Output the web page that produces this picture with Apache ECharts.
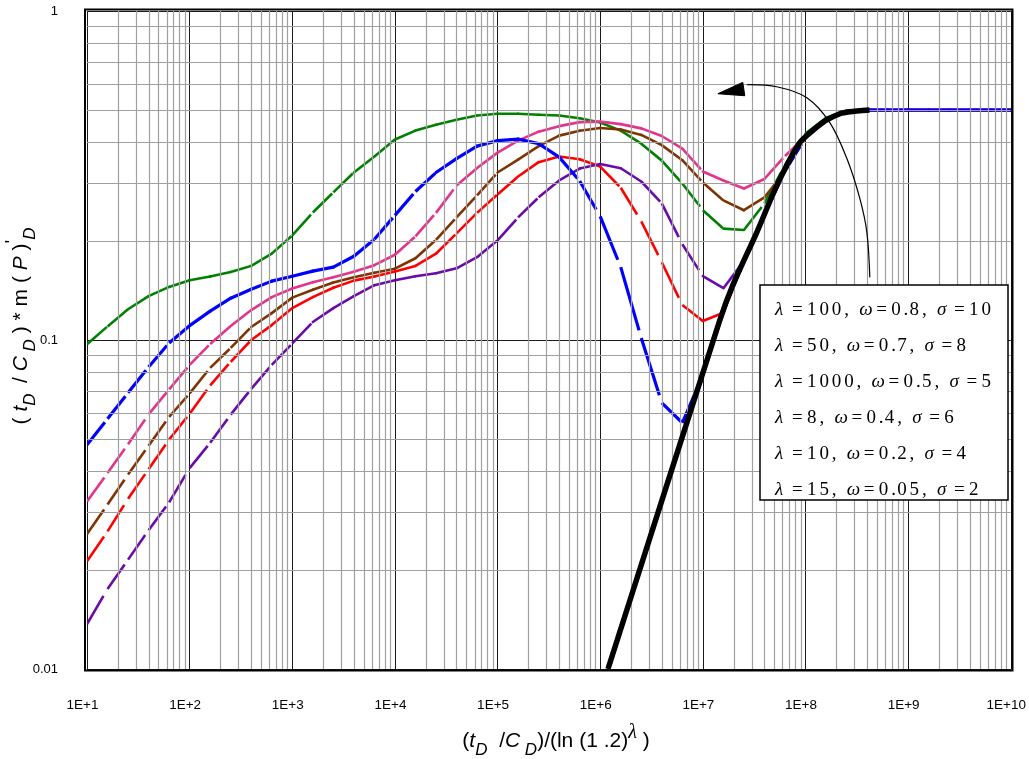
<!DOCTYPE html>
<html>
<head>
<meta charset="utf-8">
<script src="https://cdn.jsdelivr.net/npm/echarts@6/dist/echarts.min.js"></script>
<style>
  html, body { margin: 0; padding: 0; background: #fff; }
  #chart { width: 1029px; height: 759px; }
</style>
</head>
<body>
<div id="chart"></div>
<script>
// Dimensionless time samples (t_D/C_D)/(ln(1.2)^λ), five per decade
const tD = [10, 15.85, 25.12, 39.81, 63.1, 100, 158.5, 251.2, 398.1, 631,
  1000, 1585, 2512, 3981, 6310, 1e4, 1.585e4, 2.512e4, 3.981e4, 6.31e4,
  1e5, 1.585e5, 2.512e5, 3.981e5, 6.31e5, 1e6, 1.585e6, 2.512e6, 3.981e6, 6.31e6,
  1e7, 1.585e7, 2.512e7, 3.981e7, 6.31e7, 1e8, 1.585e8, 2.512e8, 3.981e8, 6.31e8,
  1e9, 1.585e9, 2.512e9, 3.981e9, 6.31e9, 1e10];

// Pseudo-pressure derivative for each parameter set
const curveA = [0.097, 0.110, 0.124, 0.136, 0.145, 0.152, 0.156, 0.161, 0.168, 0.183,
  0.208, 0.244, 0.281, 0.323, 0.361, 0.407, 0.433, 0.451, 0.467, 0.481,
  0.487, 0.487, 0.484, 0.481, 0.472, 0.458, 0.433, 0.395, 0.351, 0.299,
  0.248, 0.218, 0.216, 0.260, 0.340, 0.424, 0.474, 0.498, 0.5, 0.5,
  0.5, 0.5, 0.5, 0.5, 0.5, 0.5];
const curveB = [0.048, 0.0576, 0.0691, 0.0828, 0.0979, 0.1106, 0.1224, 0.134, 0.1427, 0.151,
  0.1563, 0.1619, 0.1665, 0.1797, 0.2023, 0.2392, 0.2828, 0.3229, 0.356, 0.3884,
  0.4037, 0.408, 0.3954, 0.3597, 0.3043, 0.2375, 0.1665, 0.1014, 0.0644, 0.056,
  0.0783, 0.1228, 0.1738, 0.2408, 0.327, 0.413, 0.467, 0.494, 0.5, 0.5,
  0.5, 0.5, 0.5, 0.5, 0.5, 0.5];
const curveC = [0.0323, 0.0394, 0.0482, 0.0594, 0.0708, 0.084, 0.0973, 0.1103, 0.1233, 0.135,
  0.1434, 0.1499, 0.1552, 0.1613, 0.1688, 0.1816, 0.2066, 0.2434, 0.2949, 0.3332,
  0.3712, 0.4037, 0.4298, 0.4467, 0.4594, 0.461, 0.453, 0.4398, 0.4169, 0.3818,
  0.3251, 0.3054, 0.2888, 0.3086, 0.3625, 0.415, 0.467, 0.494, 0.5, 0.5,
  0.5, 0.5, 0.5, 0.5, 0.5, 0.5];
const curveD = [0.0257, 0.0316, 0.039, 0.0477, 0.0584, 0.0688, 0.0823, 0.0946, 0.1095, 0.1207,
  0.1345, 0.1422, 0.1495, 0.1552, 0.16, 0.1647, 0.1772, 0.2016, 0.2359, 0.275,
  0.3229, 0.3535, 0.3884, 0.418, 0.4327, 0.441, 0.4365, 0.42, 0.3912, 0.352,
  0.3012, 0.2656, 0.248, 0.2714, 0.325, 0.413, 0.467, 0.494, 0.5, 0.5,
  0.5, 0.5, 0.5, 0.5, 0.5, 0.5];
const curveE = [0.02125, 0.0262, 0.0329, 0.0405, 0.0498, 0.0597, 0.0728, 0.0858, 0.1, 0.111,
  0.125, 0.135, 0.1442, 0.1515, 0.1559, 0.1614, 0.1679, 0.1829, 0.211, 0.2434,
  0.277, 0.314, 0.3472, 0.361, 0.3545, 0.3367, 0.2902, 0.2294, 0.1723, 0.1277,
  0.1142, 0.121, 0.1738, 0.2408, 0.327, 0.413, 0.467, 0.494, 0.5, 0.5,
  0.5, 0.5, 0.5, 0.5, 0.5, 0.5];
const curveF = [0.0137, 0.0175, 0.0215, 0.0264, 0.0321, 0.0408, 0.0487, 0.0593, 0.071, 0.084,
  0.0976, 0.1134, 0.125, 0.1359, 0.1468, 0.152, 0.1563, 0.1596, 0.1652, 0.1785,
  0.2009, 0.2359, 0.2714, 0.3054, 0.332, 0.3426, 0.3327, 0.3032, 0.2602, 0.1954,
  0.1563, 0.1437, 0.1738, 0.2408, 0.327, 0.413, 0.467, 0.494, 0.5, 0.5,
  0.5, 0.5, 0.5, 0.5, 0.5, 0.5];

// Wellbore-storage / radial-flow reference curve [tD, value]
const storageCurve = [[1.19e6, 0.01], [1.464e7, 0.115], [1.959e7, 0.147], [3.356e7, 0.2125],
  [5.254e7, 0.295], [8.8e7, 0.398], [1.475e8, 0.458], [2.16e8, 0.487], [2.7e8, 0.494], [4.2e8, 0.5]];

// Parameter sets shown in the key
const lambdas = [100, 50, 1000, 8, 10, 15];
const omegas = [0.8, 0.7, 0.5, 0.4, 0.2, 0.05];
const sigmas = [10, 8, 5, 6, 4, 2];

// Axis ticks
const xTickValues = [1e1, 1e2, 1e3, 1e4, 1e5, 1e6, 1e7, 1e8, 1e9, 1e10];
const xTickLabels = ['1E+1', '1E+2', '1E+3', '1E+4', '1E+5', '1E+6', '1E+7', '1E+8', '1E+9', '1E+10'];
const yTickValues = [0.01, 0.1, 1];
const yTickLabels = ['0.01', '0.1', '1'];

// Arrow annotation path, in data space
const arrowPath = [[4.23e8, 0.155], [3.96e8, 0.2125], [3.38e8, 0.2693], [2.53e8, 0.356],
  [1.725e8, 0.4578], [1.03e8, 0.545], [5.25e7, 0.5886], [2.68e7, 0.5969]];
const arrowHead = [[1.40e7, 0.5604], [2.45e7, 0.607], [2.56e7, 0.5526]];

const curveColors = ['#008000', '#0000ff', '#e4338c', '#7f3300', '#ff0000', '#6a0aa8'];
const curveWidths = [2.6, 3.2, 2.6, 2.6, 2.6, 2.6];
// blue sits above the other coloured curves, the storage curve above all of them
const curveZ = [3, 4, 3, 3, 3, 3];

function tickLabel(values, labels) {
  return function (v) {
    for (let i = 0; i < values.length; i++) {
      if (Math.abs(Math.log10(v) - Math.log10(values[i])) < 1e-6) return labels[i];
    }
    return '';
  };
}

// Each segment is drawn on its own; long (steep) segments leave a short gap at the end
function segmentRenderer(ys, color, width) {
  return function (params, api) {
    const i = params.dataIndex;
    if (i >= ys.length - 1) return null;
    const a = api.coord([tD[i], ys[i]]);
    const b = api.coord([tD[i + 1], ys[i + 1]]);
    const dx = b[0] - a[0], dy = b[1] - a[1];
    const len = Math.hypot(dx, dy);
    const gap = len > 26 ? Math.min(8, (len - 26) * 0.6) : 0;
    const f = len > 0 ? (len - gap) / len : 1;
    return {
      type: 'line',
      shape: { x1: a[0], y1: a[1], x2: a[0] + dx * f, y2: a[1] + dy * f },
      style: { stroke: color, lineWidth: width, lineCap: gap > 0 ? 'butt' : 'round' }
    };
  };
}

// Minor grid positions 2..9 per decade
const minorX = [], minorY = [];
for (let e = 1; e < 10; e++) for (let m = 2; m <= 9; m++) minorX.push(m * Math.pow(10, e));
for (let e = -2; e < 0; e++) for (let m = 2; m <= 9; m++) minorY.push(m * Math.pow(10, e));

const chart = echarts.init(document.getElementById('chart'), null, { renderer: 'canvas' });

const curves = [curveA, curveB, curveC, curveD, curveE, curveF];
const order = [0, 2, 3, 4, 5, 1];

const series = [{
  type: 'line',
  data: [[10, 0.01]],
  showSymbol: false,
  lineStyle: { opacity: 0 },
  silent: true,
  z: 1,
  markLine: {
    silent: true,
    symbol: ['none', 'none'],
    label: { show: false },
    animation: false,
    lineStyle: { type: 'solid', color: '#a0a0a0', width: 1.2 },
    data: minorX.map(v => ({ xAxis: v })).concat(minorY.map(v => ({ yAxis: v })))
  }
}];

order.forEach(idx => {
  const ys = curves[idx];
  series.push({
    type: 'custom',
    coordinateSystem: 'cartesian2d',
    renderItem: segmentRenderer(ys, curveColors[idx], curveWidths[idx]),
    data: tD.map((x, i) => [x, ys[i]]),
    encode: { x: 0, y: 1 },
    clip: true,
    silent: true,
    z: curveZ[idx]
  });
});

series.push({
  type: 'line',
  data: storageCurve,
  showSymbol: false,
  smooth: 0.2,
  lineStyle: { color: '#000', width: 5.5 },
  clip: true,
  silent: true,
  z: 5
});

const GRID = { left: 87, top: 11, width: 924, height: 658 };

const serifFont = '"Liberation Serif", "DejaVu Serif", serif';
const sansFont = '"Liberation Sans", Arial, sans-serif';

function numTokens(v) {
  return String(v).split('').map(c => c === '.' ? '{p|.}' : '{d|' + c + '}').join('');
}
const keyRich = {
  g: { fontFamily: serifFont, fontStyle: 'italic', fontSize: 19, width: 17, color: '#000' },
  e: { fontFamily: serifFont, fontSize: 19, width: 15, color: '#000' },
  d: { fontFamily: serifFont, fontSize: 19, width: 12.4, color: '#000' },
  p: { fontFamily: serifFont, fontSize: 19, width: 6, color: '#000' },
  c: { fontFamily: serifFont, fontSize: 19, width: 15, color: '#000' }
};
const keyTexts = lambdas.map((l, i) =>
  '{g|λ}{e|=}' + numTokens(l) + '{c|,}{g|ω}{e|=}' + numTokens(omegas[i]) +
  '{c|,}{g|σ}{e|=}' + numTokens(sigmas[i]));

const titleRich = {
  n: { fontFamily: sansFont, fontSize: 21, color: '#000', lineHeight: 36 },
  i: { fontFamily: sansFont, fontSize: 21, fontStyle: 'italic', color: '#000', lineHeight: 36 },
  s: { fontFamily: sansFont, fontSize: 17, fontStyle: 'italic', color: '#000', lineHeight: 16, verticalAlign: 'bottom' },
  sup: { fontFamily: serifFont, fontSize: 20, fontStyle: 'italic', color: '#000', lineHeight: 18, verticalAlign: 'top' },
  pr: { fontFamily: sansFont, fontSize: 19, color: '#000', lineHeight: 18, verticalAlign: 'top' }
};

chart.setOption({
  animation: false,
  backgroundColor: '#fff',
  grid: GRID,
  xAxis: {
    type: 'log', logBase: 10, min: 10, max: 1e10, splitNumber: 9,
    axisLine: { show: false }, axisTick: { show: false },
    splitLine: { show: true, lineStyle: { color: '#1a1a1a', width: 1 } },
    axisLabel: {
      fontFamily: sansFont, fontSize: 13.5, color: '#000', margin: 29,
      padding: [0, 9, 0, 0],
      formatter: tickLabel(xTickValues, xTickLabels)
    }
  },
  yAxis: {
    type: 'log', logBase: 10, min: 0.01, max: 1, splitNumber: 2,
    axisLine: { show: false }, axisTick: { show: false },
    splitLine: { show: true, lineStyle: { color: '#1a1a1a', width: 1 } },
    axisLabel: {
      fontFamily: sansFont, fontSize: 13, color: '#000', margin: 29,
      formatter: tickLabel(yTickValues, yTickLabels)
    }
  },
  series: series
});

// Frame, key, axis titles and arrow
const toPx = p => chart.convertToPixel({ gridIndex: 0 }, p);
const keyTop = 285, keyLeft = 760, keyRowGap = 36;

const graphics = [
  {
    type: 'rect', z: 20, silent: true,
    shape: { x: GRID.left - 2, y: GRID.top - 1.5, width: GRID.width + 3.5, height: GRID.height + 3 },
    style: { fill: 'none', stroke: '#000', lineWidth: 2 }
  },
  {
    type: 'rect', z: 20, silent: true,
    shape: { x: keyLeft, y: keyTop, width: 248, height: 215 },
    style: { fill: '#fff', stroke: '#000', lineWidth: 1.5 }
  },
  {
    type: 'text', z: 21, silent: true, x: 556, y: 741,
    style: {
      text: '{n|(}{i|t}{s|D}{n|  /}{i|C}{s| D}{n|)/(ln (1 .2)}{sup|λ}{n| )}',
      rich: titleRich, align: 'center', verticalAlign: 'middle'
    }
  },
  {
    type: 'text', z: 21, silent: true, x: 21, y: 326, rotation: Math.PI / 2,
    style: {
      text: '{n|( }{i|t}{s|D }{n| / }{i|C}{s| D}{n| ) * m ( }{i|P}{n| )}{pr|\'}{s|D}',
      rich: titleRich, align: 'center', verticalAlign: 'middle'
    }
  },
  {
    type: 'polyline', z: 22, silent: true,
    shape: { points: arrowPath.map(toPx), smooth: 0.35 },
    style: { stroke: '#000', lineWidth: 1.2, fill: 'none' }
  },
  {
    type: 'polygon', z: 22, silent: true,
    shape: { points: arrowHead.map(toPx) },
    style: { fill: '#000', stroke: '#000', lineWidth: 1 }
  }
];
keyTexts.forEach((t, i) => {
  graphics.push({
    type: 'text', z: 21, silent: true,
    x: keyLeft + 15, y: keyTop + 25 + i * keyRowGap,
    style: { text: t, rich: keyRich, align: 'left', verticalAlign: 'middle' }
  });
});
chart.setOption({ graphic: graphics });
</script>
</body>
</html>
